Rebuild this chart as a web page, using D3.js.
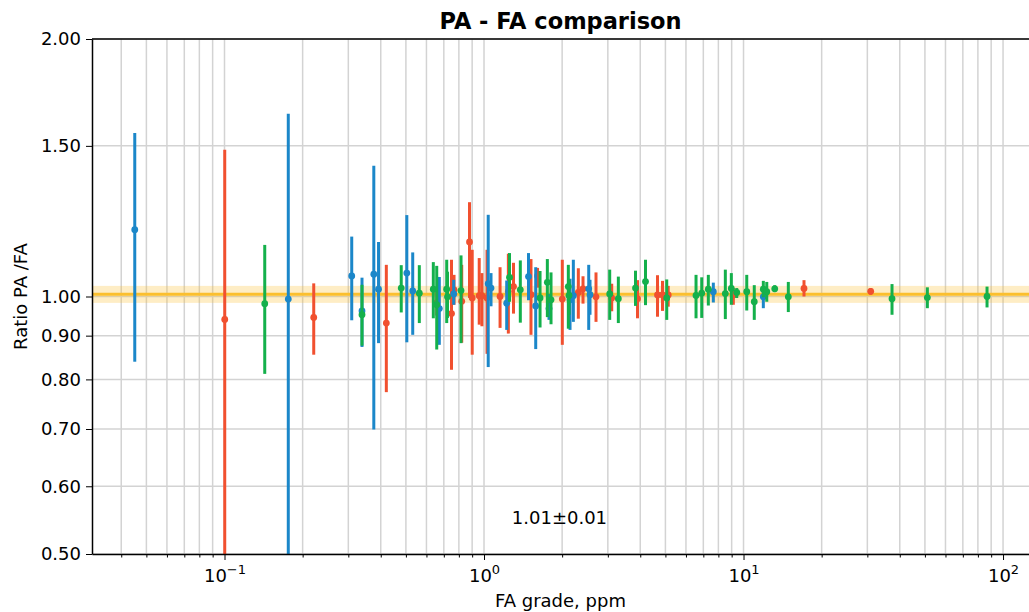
<!DOCTYPE html>
<html>
<head>
<meta charset="utf-8">
<script src="https://cdn.jsdelivr.net/npm/d3@7"></script>
<style>
  body { margin: 0; background: #fff; }
  svg { display: block; font-family: "DejaVu Sans", sans-serif; }
</style>
</head>
<body>
<svg id="chart"></svg>
<script>
// FA grade (ppm), ratio PA/FA and the ends of each error bar, one set per series
const blueGrade = [0.0451, 0.1761, 0.3092, 0.3387, 0.3761, 0.3922, 0.5041, 0.5312, 0.6726, 0.7643, 1.038, 1.064, 1.223, 1.484, 1.582, 1.780, 2.145, 2.209, 2.532, 2.561, 7.649, 11.92];
const blueRatio = [1.197, 0.993, 1.057, 0.962, 1.062, 1.020, 1.065, 1.015, 0.968, 1.007, 1.035, 1.023, 0.982, 1.055, 0.975, 0.968, 0.991, 1.002, 1.021, 1.005, 1.013, 0.999];
const blueLow = [0.839, 0.35, 0.938, 0.873, 0.699, 0.882, 0.884, 0.902, 0.878, 0.978, 0.827, 0.974, 0.914, 0.990, 0.868, 0.939, 0.914, 0.934, 0.914, 0.952, 0.984, 0.969];
const blueHigh = [1.553, 1.635, 1.175, 1.052, 1.422, 1.158, 1.245, 1.126, 1.054, 1.046, 1.246, 1.065, 1.044, 1.124, 1.082, 1.007, 1.049, 1.104, 1.089, 1.046, 1.038, 1.016];

const redGrade = [0.1002, 0.2207, 0.4203, 0.6573, 0.7495, 0.7663, 0.8205, 0.8793, 0.9006, 0.9583, 0.9815, 1.027, 1.153, 1.241, 1.299, 1.517, 1.608, 2.003, 2.309, 2.407, 2.701, 3.105, 3.904, 4.662, 4.873, 5.126, 9.134, 17.10, 30.91];
const redRatio = [0.940, 0.945, 0.931, 0.983, 0.955, 1.018, 0.987, 1.158, 0.996, 1.002, 1.002, 0.996, 1.000, 1.014, 1.027, 1.005, 1.057, 0.993, 1.011, 1.021, 0.999, 0.996, 0.994, 1.004, 1.004, 1.004, 1.004, 1.022, 1.014];
const redLow = [0.40, 0.855, 0.773, 0.950, 0.821, 0.978, 0.883, 0.996, 0.855, 0.927, 0.923, 0.857, 0.919, 0.905, 0.955, 0.902, 1.024, 0.878, 0.942, 0.981, 0.934, 0.961, 0.943, 0.947, 0.962, 0.973, 0.978, 1.000, 1.005];
const redHigh = [1.484, 1.036, 1.089, 1.018, 1.104, 1.060, 1.089, 1.289, 1.134, 1.109, 1.065, 1.134, 1.082, 1.122, 1.095, 1.106, 1.080, 1.104, 1.079, 1.056, 1.067, 1.035, 1.045, 1.059, 1.043, 1.029, 1.023, 1.045, 1.023];

const greenGrade = [0.1429, 0.3387, 0.4797, 0.5632, 0.6377, 0.6573, 0.7182, 0.7233, 0.8154, 1.254, 1.380, 1.644, 1.754, 1.812, 2.113, 2.126, 3.050, 3.293, 3.835, 4.191, 5.059, 6.561, 6.901, 7.317, 8.509, 8.974, 9.414, 10.29, 11.00, 11.92, 12.29, 13.19, 14.88, 37.34, 51.09, 86.76];
const greenRatio = [0.981, 0.952, 1.023, 1.009, 1.020, 0.978, 1.020, 0.999, 1.016, 1.053, 1.018, 0.996, 1.039, 0.991, 1.027, 1.003, 1.007, 0.994, 1.023, 1.041, 0.996, 1.003, 1.009, 1.020, 1.008, 1.022, 1.011, 1.013, 0.986, 1.020, 1.013, 1.021, 0.999, 0.994, 0.997, 1.000];
const greenLow = [0.812, 0.876, 0.958, 0.931, 0.943, 0.867, 0.931, 0.944, 0.882, 0.986, 0.932, 0.920, 0.946, 0.928, 0.917, 0.952, 0.939, 0.931, 0.975, 0.977, 0.939, 0.943, 0.944, 0.976, 0.941, 0.978, 0.996, 0.963, 0.939, 0.998, 0.986, 1.012, 0.959, 0.952, 0.969, 0.971];
const greenHigh = [1.149, 1.032, 1.088, 1.088, 1.097, 1.086, 1.104, 1.069, 1.117, 1.124, 1.102, 1.071, 1.106, 1.067, 1.089, 1.046, 1.075, 1.055, 1.072, 1.104, 1.047, 1.060, 1.053, 1.060, 1.075, 1.065, 1.023, 1.060, 1.031, 1.043, 1.040, 1.031, 1.040, 1.034, 1.025, 1.027];

// mean ratio and its band
const meanRatio = 1.006;
const meanBand = [0.983, 1.029];
const meanLabel = "1.01\u00b10.01";

const yTicks = [0.5, 0.6, 0.7, 0.8, 0.9, 1.0, 1.5, 2.0];
const xMajor = [0.1, 1, 10, 100];
const xTickLabels = [["10", "\u22121"], ["10", "0"], ["10", "1"], ["10", "2"]];

function drawChart() {
    const width = 1029;
    const height = 612;
    const margin = { top: 39, right: 0, bottom: 58, left: 92 };

    const svg = d3.select("#chart")
        .attr("width", width)
        .attr("height", height);

    const x = d3.scaleLog()
        .domain([0.03086, 125.9])
        .range([margin.left, width - margin.right]);

    const y = d3.scaleLog()
        .domain([0.5, 2])
        .range([height - margin.bottom, margin.top]);

    const plotBottom = height - margin.bottom;

    svg.append("clipPath").attr("id", "plotClip")
        .append("rect")
        .attr("x", margin.left).attr("y", margin.top)
        .attr("width", width - margin.left - margin.right)
        .attr("height", plotBottom - margin.top);

    // grid (all decade sub-ticks on x, the listed ticks on y)
    const xAll = x.ticks();
    svg.append("g").selectAll("line").data(xAll).enter().append("line")
        .attr("x1", d => x(d)).attr("x2", d => x(d))
        .attr("y1", margin.top).attr("y2", plotBottom)
        .attr("stroke", "#d3d3d3").attr("stroke-width", 1.5);
    svg.append("g").selectAll("line").data(yTicks).enter().append("line")
        .attr("x1", margin.left).attr("x2", width)
        .attr("y1", d => y(d)).attr("y2", d => y(d))
        .attr("stroke", "#d3d3d3").attr("stroke-width", 1.5);

    const plot = svg.append("g").attr("clip-path", "url(#plotClip)");

    // mean band + line
    plot.append("rect")
        .attr("x", margin.left).attr("width", width - margin.left)
        .attr("y", y(meanBand[1])).attr("height", y(meanBand[0]) - y(meanBand[1]))
        .attr("fill", "#fbc02d").attr("opacity", 0.28);
    plot.append("line")
        .attr("x1", margin.left).attr("x2", width)
        .attr("y1", y(meanRatio)).attr("y2", y(meanRatio))
        .attr("stroke", "#fbbf2e").attr("stroke-width", 3);

    const series = [
        { color: "#f1502f", grade: redGrade, ratio: redRatio, lo: redLow, hi: redHigh },
        { color: "#1b87c9", grade: blueGrade, ratio: blueRatio, lo: blueLow, hi: blueHigh },
        { color: "#14b04b", grade: greenGrade, ratio: greenRatio, lo: greenLow, hi: greenHigh }
    ];

    series.forEach(s => {
        const pts = s.grade.map((g, i) => ({ g: g, r: s.ratio[i], lo: s.lo[i], hi: s.hi[i] }));
        const grp = plot.append("g");
        grp.selectAll("line").data(pts).enter().append("line")
            .attr("x1", d => x(d.g)).attr("x2", d => x(d.g))
            .attr("y1", d => y(d.lo)).attr("y2", d => y(d.hi))
            .attr("stroke", s.color).attr("stroke-width", 3);
        grp.selectAll("circle").data(pts).enter().append("circle")
            .attr("cx", d => x(d.g)).attr("cy", d => y(d.r)).attr("r", 3.4)
            .attr("fill", s.color);
    });

    // axes
    const yAxis = svg.append("g")
        .attr("transform", `translate(${margin.left},0)`)
        .call(d3.axisLeft(y).tickValues(yTicks).tickFormat(d3.format(".2f")).tickSize(6).tickPadding(5).tickSizeOuter(0));
    yAxis.selectAll("text").attr("font-size", "18px").attr("font-family", "DejaVu Sans").attr("fill", "#000");
    yAxis.select(".domain").attr("stroke-width", 1.5);

    svg.append("g")
        .attr("transform", `translate(0,${plotBottom})`)
        .call(d3.axisBottom(x).tickValues(xAll.filter(d => xMajor.indexOf(d) < 0)).tickFormat("").tickSize(3.5).tickSizeOuter(0))
        .select(".domain").attr("stroke-width", 1.5);

    const xAxis = svg.append("g")
        .attr("transform", `translate(0,${plotBottom})`)
        .call(d3.axisBottom(x).tickValues(xMajor).tickSize(6).tickPadding(6).tickSizeOuter(0).tickFormat(""));
    xAxis.select(".domain").remove();
    xAxis.selectAll(".tick").each(function (d, i) {
        const t = d3.select(this).append("text")
            .attr("y", 28).attr("text-anchor", "middle")
            .attr("font-size", "18px").attr("font-family", "DejaVu Sans").attr("fill", "#000");
        t.append("tspan").text(xTickLabels[i][0]);
        t.append("tspan").attr("dy", -8).attr("font-size", "13px").text(xTickLabels[i][1]);
    });

    svg.append("line")
        .attr("x1", margin.left).attr("x2", width)
        .attr("y1", margin.top).attr("y2", margin.top)
        .attr("stroke", "#000").attr("stroke-width", 1.5);

    // labels
    svg.append("text").attr("x", (margin.left + width) / 2).attr("y", 29)
        .attr("text-anchor", "middle").attr("font-size", "22.5px").attr("font-weight", "bold")
        .text("PA - FA comparison");
    svg.append("text").attr("x", (margin.left + width) / 2).attr("y", 607)
        .attr("text-anchor", "middle").attr("font-size", "18px")
        .text("FA grade, ppm");
    svg.append("text").attr("transform", "rotate(-90)")
        .attr("x", -y(1.0)).attr("y", 27)
        .attr("text-anchor", "middle").attr("font-size", "18px")
        .text("Ratio PA /FA");
    svg.append("text").attr("x", x(1.28)).attr("y", y(0.542))
        .attr("font-size", "18px")
        .text(meanLabel);
}

drawChart();
</script>
</body>
</html>
